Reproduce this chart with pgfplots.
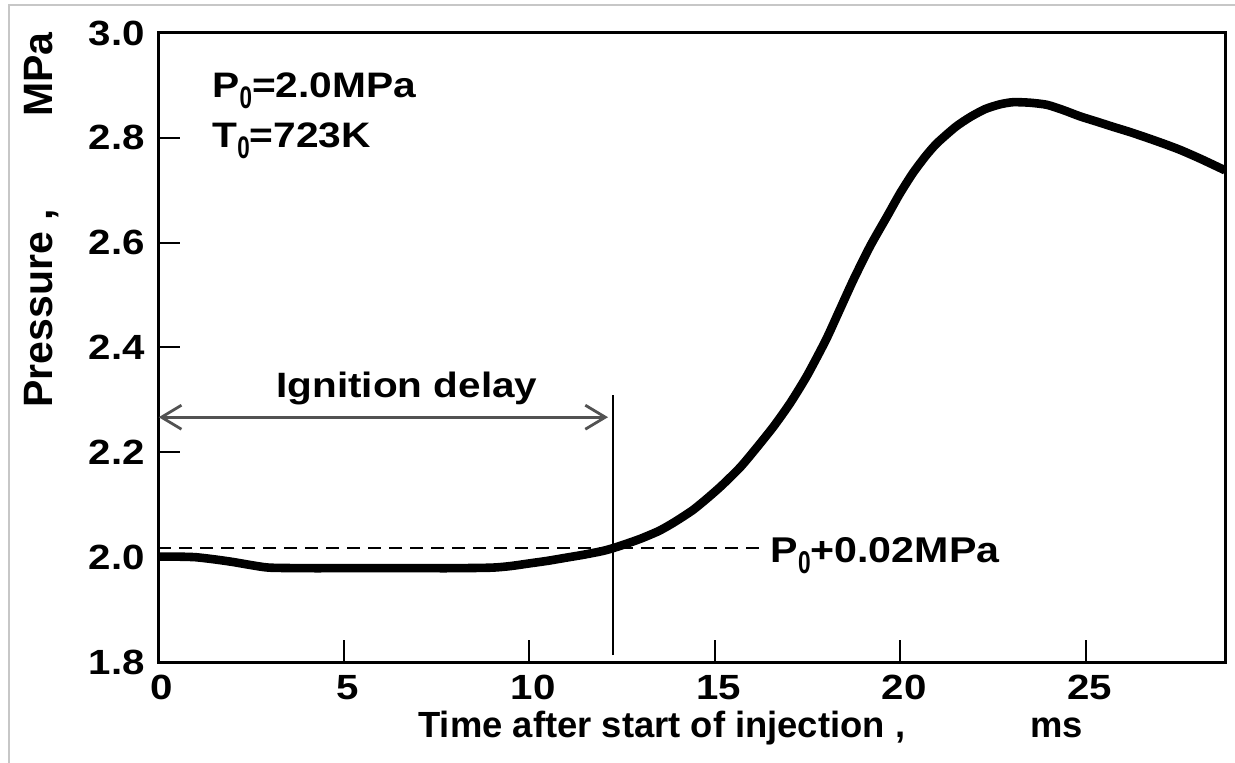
\documentclass[border=0pt]{standalone}
\usepackage{fontspec}
\setmainfont{Liberation Sans}[FakeStretch=1.15]
\newfontfamily\ylabfont{Liberation Sans}
\usepackage{pgfplots}
\pgfplotsset{compat=1.18}
\usetikzlibrary{arrows.meta}
\newcommand{\sub}{\raisebox{-5.5pt}{\scalebox{0.55}[0.88]{0}}}
\pgfplotstableread{
t p
0 2.001
0.5 2.001
1.0 2.000
1.5 1.996
2.0 1.991
2.5 1.985
3.0 1.980
4 1.979
5 1.979
6 1.979
7 1.979
8 1.979
9 1.980
9.5 1.983
10.0 1.988
10.5 1.993
11.0 1.999
11.5 2.005
12.0 2.012
12.3 2.018
12.6 2.025
13.0 2.035
13.5 2.050
13.9 2.066
14.4 2.089
14.8 2.112
15.2 2.137
15.7 2.172
16.15 2.210
16.6 2.250
17.05 2.295
17.5 2.347
18.0 2.414
18.35 2.468
18.75 2.530
19.2 2.594
19.65 2.650
20.0 2.694
20.35 2.733
20.7 2.766
21.0 2.790
21.5 2.821
21.9 2.840
22.3 2.855
22.7 2.864
23.05 2.868
23.5 2.867
23.96 2.863
24.4 2.853
24.85 2.841
25.3 2.831
25.74 2.821
26.2 2.811
26.66 2.800
27.1 2.789
27.55 2.777
28.1 2.760
28.76 2.738
}\pressure
\begin{document}
\begin{tikzpicture}
\path[use as bounding box] (0,0) rectangle (617.5pt,-381.5pt);
\draw[black!22, line width=0.8pt] (4.5pt,-381.5pt) -- (4.5pt,-2.5pt) -- (617.5pt,-2.5pt);
\begin{axis}[
  at={(79pt,-331pt)}, anchor=south west,
  scale only axis, width=533.5pt, height=314.5pt,
  xmin=0, xmax=28.76, ymin=1.8, ymax=3.0,
  xtick={0,5,10,15,20,25}, ytick={1.8,2.0,2.2,2.4,2.6,2.8,3.0},
  yticklabel style={xshift=-3pt, /pgf/number format/.cd, fixed, fixed zerofill, precision=1},
  xticklabel style={inner sep=0.5pt, yshift=-6pt, xshift=2pt},
  xtick pos=bottom, ytick pos=left, tick align=inside,
  major tick length=11pt,
  axis line style={line width=1.5pt},
  tick style={black, line width=1pt},
  tick label style={font=\fontsize{17.5}{20}\selectfont\bfseries},
  /pgf/number format/assume math mode=true,
  clip=false,
]
\addplot[black, line width=4.3pt, line join=round, smooth, tension=0.4] table[x=t, y=p] {\pressure};
\addplot[black, line width=1pt, dash pattern=on 6.5pt off 4pt] coordinates {(0,2.017) (16.36,2.017)};
\addplot[black, line width=1pt] coordinates {(12.27,1.813) (12.27,2.31)};
\addplot[black!68, line width=1.4pt, {Straight Barb[length=10pt,width=12pt]}-{Straight Barb[length=10pt,width=12pt]}] coordinates {(0.02,2.267) (12.13,2.267)};
\node[anchor=base west, inner sep=0pt, font=\fontsize{17.7}{20}\selectfont\bfseries] at (axis cs:1.46,2.876) {P\sub=2.0MPa};
\node[anchor=base west, inner sep=0pt, font=\fontsize{17.7}{20}\selectfont\bfseries] at (axis cs:1.46,2.782) {T\sub=723K};
\node[anchor=base, inner sep=0pt, font=\fontsize{17.6}{20}\selectfont\bfseries] at (axis cs:6.71,2.3055) {Ignition delay};
\node[anchor=base west, inner sep=0pt, font=\fontsize{17.9}{20}\selectfont\bfseries] at (axis cs:16.5,1.989) {P\sub+0.02MPa};
\end{axis}
\node[anchor=base west, inner sep=0pt, font=\ylabfont\fontsize{18.2}{21}\selectfont\bfseries] at (209pt,-368.5pt) {Time after start of injection ,};
\node[anchor=base west, inner sep=0pt, font=\ylabfont\fontsize{18.2}{21}\selectfont\bfseries] at (515pt,-368.5pt) {ms};
\node[rotate=90, anchor=base west, inner sep=0pt, font=\ylabfont\fontsize{20.5}{24}\selectfont\bfseries] at (26pt,-204pt) {Pressure ,};
\node[rotate=90, anchor=base west, inner sep=0pt, font=\ylabfont\fontsize{20.5}{24}\selectfont\bfseries] at (26pt,-58.5pt) {MPa};
\end{tikzpicture}
\end{document}
